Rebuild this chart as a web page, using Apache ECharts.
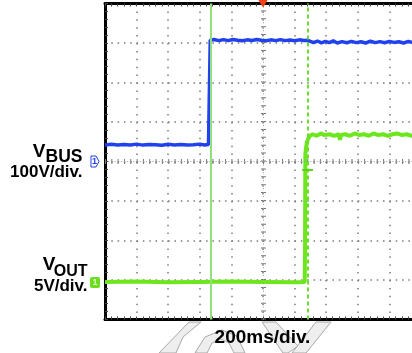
<!DOCTYPE html>
<html>
<head>
<meta charset="utf-8">
<script src="https://cdn.jsdelivr.net/npm/echarts@6/dist/echarts.min.js"></script>
<style>
  html, body { margin: 0; padding: 0; background: #ffffff; overflow: hidden; }
  #chart { width: 430px; height: 353px; }
</style>
</head>
<body>
<div id="chart"></div>
<script>
// time axis (ms), 200ms/div, 10 div
const timeMin = -1000;
const timeMax = 1000;
const timeStep = 200;

// channel 1: VBUS, 100V/div, ground at centre line
const vbusScale = 100;
const vbusT = [-1000, -960, -920, -880, -840, -800, -760, -720, -680, -640, -600, -560, -520, -480, -440,
  -400, -370, -345, -334, -334, -310, -280, -250, -220, -190, -160, -130, -100, -70, -40, -10, 20, 50, 80,
  110, 140, 170, 200, 230, 260, 285, 300, 320, 345, 370, 395, 420, 445, 470, 500, 530, 560, 590, 620,
  650, 680, 710, 740, 770, 800, 830, 860, 890, 920, 950, 980, 1000];
const vbusV = [42, 43.5, 41.5, 43, 42, 44, 41.5, 43, 42.5, 41, 43.5, 42, 43, 41.5, 42.5,
  44, 42, 43, 42.5, 307, 309, 306, 308.5, 306, 309, 307, 305.5, 308, 306.5, 309, 307, 305.5, 308, 306,
  308.5, 306, 307.5, 305.5, 308, 306.5, 307, 304, 301, 305, 300.5, 304, 301, 305.5, 300, 303.5, 300.5, 304, 301, 303,
  300, 304.5, 301, 303.5, 300.5, 304, 301.5, 303, 300, 304, 301, 303.5, 302];

// channel 2: VOUT, 5V/div, ground marker at -3.05 div
const voutScale = 5;
const voutGroundDiv = -3.05;
const voutT = [-1000, -800, -600, -400, -200, 0, 200, 264, 266, 268, 272, 277, 285, 297, 315, 340, 365,
  390, 420, 450, 480, 487, 494, 520, 550, 580, 610, 640, 670, 700, 730, 760, 790, 820, 850, 880, 910,
  940, 970, 1000];
const voutV = [0, 0.05, -0.05, 0, 0.05, 0, -0.05, 0, 4, 16.2, 16.9, 17.6, 18.1, 18.5, 18.7, 18.5, 18.8,
  18.6, 18.7, 18.5, 18.7, 18, 18.6, 18.7, 18.5, 18.8, 18.6, 18.7, 18.5, 18.8, 18.6, 18.7, 18.5, 18.7,
  18.8, 18.6, 18.7, 18.5, 18.7, 18.6];

// cursors
const cursorA = -330;
const cursorB = 282;
const crossLevel = 14.2;
const crossHalf = 34;

const FONT = '"Liberation Sans", Arial, Helvetica, sans-serif';
const blue = '#1f41ee';
const green = '#6ee61e';

const gridLeft = 105;
const gridTop = 3.5;
const gridW = 316;
const gridH = 316;

const dotColor = '#7a7a7a';
const hDot = [1.5, gridW / 50 - 1.5];
const vDot = [1.5, gridH / 40 - 1.5];

const mychart = echarts.init(document.getElementById('chart'), null, { renderer: 'canvas' });

const borderAxis = {
  axisLine: { show: true, onZero: false, lineStyle: { color: '#000', width: 3 } },
  axisTick: { show: true, inside: true, length: 3, lineStyle: { color: '#444', width: 1 } },
  minorTick: { show: true, splitNumber: 5, length: 3, lineStyle: { color: '#444', width: 1 } },
  axisLabel: { show: false },
};

const option = {
  animation: false,
  backgroundColor: '#ffffff',
  grid: { left: gridLeft, top: gridTop, width: gridW, height: gridH, containLabel: false },
  xAxis: [
    {
      type: 'value', min: timeMin, max: timeMax, interval: timeStep, position: 'bottom',
      ...borderAxis,
      splitLine: { show: true, lineStyle: { color: dotColor, width: 1.5, type: vDot } },
    },
    {
      type: 'value', min: timeMin, max: timeMax, interval: timeStep, position: 'top',
      ...borderAxis,
      splitLine: { show: false },
    },
  ],
  yAxis: [
    {
      type: 'value', min: -4 * vbusScale, max: 4 * vbusScale, interval: vbusScale, position: 'left',
      ...borderAxis,
      splitLine: { show: true, lineStyle: { color: dotColor, width: 1.5, type: hDot } },
    },
    {
      type: 'value',
      min: (-4 - voutGroundDiv) * voutScale,
      max: (4 - voutGroundDiv) * voutScale,
      show: false,
      splitLine: { show: false },
    },
  ],
  series: [
    {
      // graticule centre lines
      name: 'centre',
      type: 'line',
      data: [],
      yAxisIndex: 0,
      z: 1,
      markLine: {
        silent: true,
        symbol: 'none',
        label: { show: false },
        data: [
          { yAxis: 0, lineStyle: { color: '#777', width: 5, type: [1, gridW / 50 - 1] } },
          { yAxis: 0, lineStyle: { color: '#999', width: 1, type: [1, gridW / 100 - 1] } },
          { xAxis: 0, lineStyle: { color: '#777', width: 5, type: [1, gridH / 40 - 1] } },
          { xAxis: 0, lineStyle: { color: '#999', width: 1, type: [1, gridH / 80 - 1] } },
        ],
      },
    },
    {
      name: 'cursors',
      type: 'line',
      data: [],
      yAxisIndex: 1,
      z: 2,
      markLine: {
        silent: true,
        symbol: 'none',
        label: { show: false },
        data: [
          { xAxis: cursorA, lineStyle: { color: '#92e07c', width: 2, type: 'solid' } },
          { xAxis: cursorB, lineStyle: { color: '#6edd30', width: 2, type: [4, 3] } },
          [
            { coord: [cursorB - crossHalf, crossLevel], lineStyle: { color: '#5ccf1a', width: 2, type: 'solid' } },
            { coord: [cursorB + crossHalf, crossLevel] },
          ],
        ],
      },
    },
    {
      name: 'VBUS',
      type: 'line',
      yAxisIndex: 0,
      z: 3,
      clip: false,
      showSymbol: false,
      data: vbusT.map((t, i) => [t, vbusV[i]]),
      lineStyle: { color: blue, width: 3.5 },
      markPoint: {
        silent: true,
        z: 20,
        label: { show: false },
        data: [
          {
            coord: [0, 4 * vbusScale], symbol: 'path://M0,0 L10,0 L5,8 Z',
            symbolSize: [10, 8], symbolOffset: [0, 0], symbolKeepAspect: false,
            itemStyle: { color: '#f0421a' },
          },
        ],
      },
    },
    {
      name: 'VOUT',
      type: 'line',
      yAxisIndex: 1,
      z: 4,
      showSymbol: false,
      data: voutT.map((t, i) => [t, voutV[i]]),
      lineStyle: { color: green, width: 4 },
    },
  ],
  graphic: [
    // faint watermark at the bottom
    { type: 'polygon', z: 0, shape: { points: [[189, 322], [201, 322], [183, 337], [176, 353], [159, 353]] },
      style: { fill: '#eeeeee', stroke: '#a8a8a8', lineWidth: 1 } },
    { type: 'polygon', z: 0, shape: { points: [[195, 353], [205, 337], [222, 330], [237, 336], [245, 353],
      [234, 353], [229, 343], [221, 339], [212, 343], [207, 353]] },
      style: { fill: '#eeeeee', stroke: '#a8a8a8', lineWidth: 1 } },
    { type: 'polygon', z: 0, shape: { points: [[262, 322], [276, 322], [298, 346], [288, 353], [283, 353]] },
      style: { fill: '#eeeeee', stroke: '#a8a8a8', lineWidth: 1 } },
    { type: 'polygon', z: 0, shape: { points: [[316, 322], [331, 322], [306, 353], [292, 353]] },
      style: { fill: '#eeeeee', stroke: '#a8a8a8', lineWidth: 1 } },

    // channel markers
    { type: 'polygon', z: 5, shape: { points: [[91, 156], [96, 156], [99, 161.5], [96, 167], [91, 167]] },
      style: { fill: '#ffffff', stroke: blue, lineWidth: 1 } },
    { type: 'text', z: 6, x: 94.5, y: 162,
      style: { text: '1', fill: blue, font: 'bold 9px ' + FONT, align: 'center', verticalAlign: 'middle' } },
    { type: 'rect', z: 5, shape: { x: 90, y: 277, width: 10, height: 11, r: 2 },
      style: { fill: '#6edd22' } },
    { type: 'text', z: 6, x: 95, y: 282.5,
      style: { text: '1', fill: '#d6ffbf', font: 'bold 9px ' + FONT, align: 'center', verticalAlign: 'middle' } },

    // channel labels
    { type: 'text', z: 6, x: 45.5, y: 151.5,
      style: { text: 'V', fill: '#000', font: 'bold 19px ' + FONT, align: 'right', verticalAlign: 'middle' } },
    { type: 'text', z: 6, x: 82.5, y: 157,
      style: { text: 'BUS', fill: '#000', font: 'bold 17.5px ' + FONT, align: 'right', verticalAlign: 'middle' } },
    { type: 'text', z: 6, x: 82.5, y: 172,
      style: { text: '100V/div.', fill: '#000', font: 'bold 17px ' + FONT, align: 'right', verticalAlign: 'middle' } },
    { type: 'text', z: 6, x: 55.5, y: 265,
      style: { text: 'V', fill: '#000', font: 'bold 19px ' + FONT, align: 'right', verticalAlign: 'middle' } },
    { type: 'text', z: 6, x: 87.5, y: 271.5,
      style: { text: 'OUT', fill: '#000', font: 'bold 16px ' + FONT, align: 'right', verticalAlign: 'middle' } },
    { type: 'text', z: 6, x: 87.5, y: 286,
      style: { text: '5V/div.', fill: '#000', font: 'bold 17px ' + FONT, align: 'right', verticalAlign: 'middle' } },

    // time base
    { type: 'text', z: 6, x: 262.5, y: 338,
      style: { text: '200ms/div.', fill: '#000', font: 'bold 19px ' + FONT, align: 'center', verticalAlign: 'middle' } },
  ],
};

mychart.setOption(option);
</script>
</body>
</html>
